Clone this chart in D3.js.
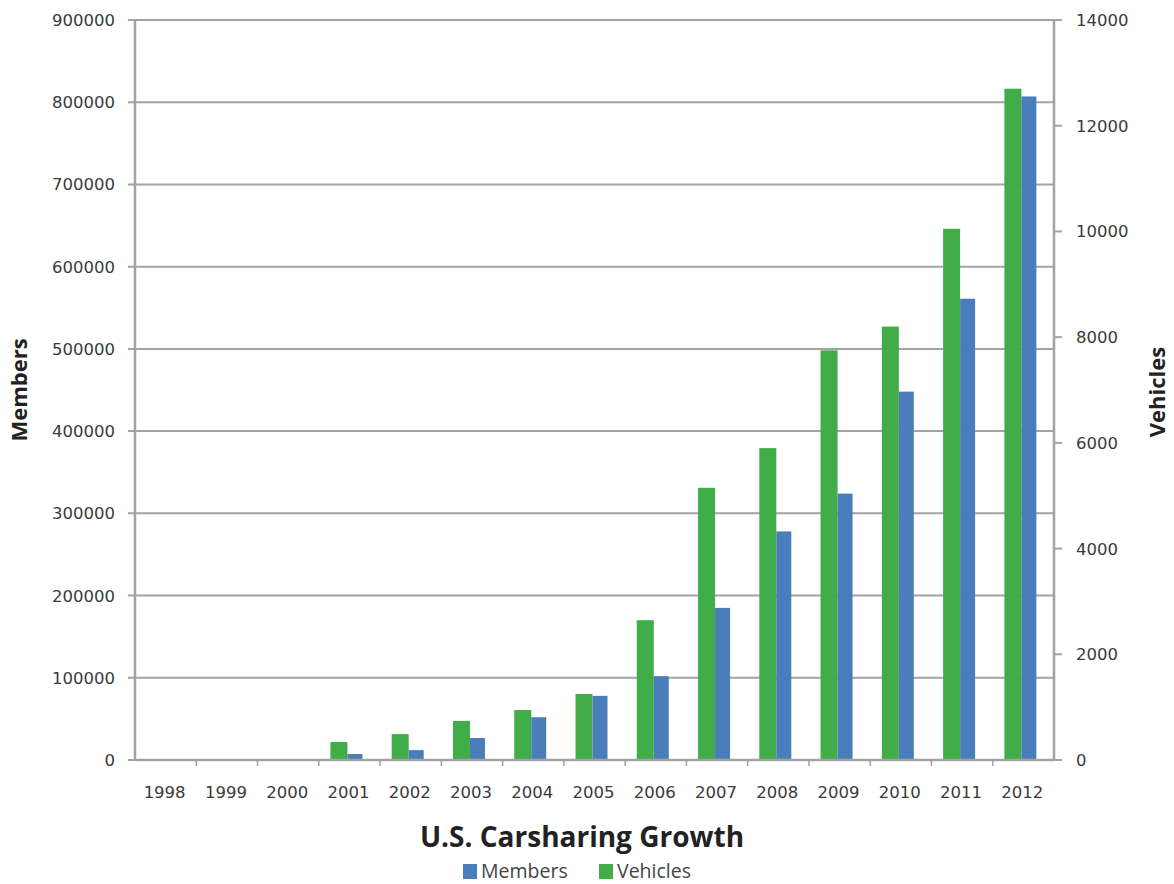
<!DOCTYPE html>
<html>
<head>
<meta charset="utf-8">
<script src="https://cdn.jsdelivr.net/npm/d3@7/dist/d3.min.js"></script>
<style>
  body { margin: 0; background: #fff; }
  svg text { font-family: "DejaVu Sans", Verdana, sans-serif; }
</style>
</head>
<body>
<svg id="chart" width="1174" height="884"></svg>
<script>
// chart data
const years = ["1998", "1999", "2000", "2001", "2002", "2003", "2004", "2005",
               "2006", "2007", "2008", "2009", "2010", "2011", "2012"];
const members = [0, 0, 0, 7300, 12000, 26700, 52000, 78000,
                 102000, 185000, 278000, 324000, 448000, 561000, 807000];
const vehicles = [0, 0, 0, 340, 490, 740, 945, 1250,
                  2645, 5150, 5900, 7750, 8200, 10050, 12700];
const memberTicks = [0, 100000, 200000, 300000, 400000, 500000, 600000, 700000, 800000, 900000];
const vehicleTicks = [0, 2000, 4000, 6000, 8000, 10000, 12000, 14000];

const svg = d3.select("#chart");
const plotLeft = 135, plotRight = 1054, plotTop = 20, plotBottom = 760;

const x = d3.scaleBand().domain(years).range([plotLeft, plotRight]);
const yM = d3.scaleLinear().domain([0, 900000]).range([plotBottom, plotTop]);
const yV = d3.scaleLinear().domain([0, 14000]).range([plotBottom, plotTop]);

const gridColor = "#a3a3a3";
const green = "#40ad48";
const blue = "#4a7ebb";

// gridlines (left axis)
svg.append("g")
  .selectAll("line")
  .data(memberTicks)
  .join("line")
  .attr("x1", plotLeft - 7).attr("x2", plotRight)
  .attr("y1", d => yM(d)).attr("y2", d => yM(d))
  .attr("stroke", gridColor).attr("stroke-width", 2);

// left axis labels
svg.append("g")
  .selectAll("text")
  .data(memberTicks)
  .join("text")
  .attr("x", 115).attr("y", d => yM(d) + 6)
  .attr("text-anchor", "end")
  .attr("font-size", 16.5)
  .attr("fill", "#3a3a3a")
  .text(d => d);

// right axis ticks + labels
svg.append("g")
  .selectAll("line")
  .data(vehicleTicks)
  .join("line")
  .attr("x1", plotRight).attr("x2", plotRight + 8)
  .attr("y1", d => yV(d)).attr("y2", d => yV(d))
  .attr("stroke", gridColor).attr("stroke-width", 2);

svg.append("g")
  .selectAll("text")
  .data(vehicleTicks)
  .join("text")
  .attr("x", 1076).attr("y", d => yV(d) + 6)
  .attr("text-anchor", "start")
  .attr("font-size", 16.5)
  .attr("fill", "#3a3a3a")
  .text(d => d);

// bars
const bw = 16;
const groups = svg.append("g")
  .selectAll("g")
  .data(years)
  .join("g")
  .attr("transform", d => "translate(" + (x(d) + x.bandwidth() / 2 - 2) + ",0)");

groups.append("rect")
  .attr("x", -bw - 1)
  .attr("width", bw + 1)
  .attr("y", (d, i) => yV(vehicles[i]))
  .attr("height", (d, i) => plotBottom - yV(vehicles[i]))
  .attr("fill", green);

groups.append("rect")
  .attr("x", 0)
  .attr("width", bw - 1)
  .attr("y", (d, i) => yM(members[i]))
  .attr("height", (d, i) => plotBottom - yM(members[i]))
  .attr("fill", blue);

// axis lines
svg.append("line")
  .attr("x1", plotLeft).attr("x2", plotLeft).attr("y1", plotTop).attr("y2", plotBottom + 1)
  .attr("stroke", gridColor).attr("stroke-width", 2.5);
svg.append("line")
  .attr("x1", plotRight).attr("x2", plotRight).attr("y1", plotTop).attr("y2", plotBottom + 1)
  .attr("stroke", gridColor).attr("stroke-width", 2.5);
svg.append("line")
  .attr("x1", plotLeft).attr("x2", plotRight).attr("y1", plotBottom).attr("y2", plotBottom)
  .attr("stroke", gridColor).attr("stroke-width", 2.5);

// category tick marks
svg.append("g")
  .selectAll("line")
  .data(years.slice(1))
  .join("line")
  .attr("x1", d => x(d)).attr("x2", d => x(d))
  .attr("y1", plotBottom).attr("y2", plotBottom + 6)
  .attr("stroke", gridColor).attr("stroke-width", 1.5);

// x labels
svg.append("g")
  .selectAll("text")
  .data(years)
  .join("text")
  .attr("x", d => x(d) + x.bandwidth() / 2 - 1)
  .attr("y", 798)
  .attr("text-anchor", "middle")
  .attr("font-size", 16.5)
  .attr("fill", "#3a3a3a")
  .text(d => d);

// axis titles
svg.append("text")
  .attr("transform", "translate(27,390) rotate(-90)")
  .attr("text-anchor", "middle")
  .attr("font-size", 22)
  .attr("font-weight", "bold")
  .style("font-family", "'Open Sans', sans-serif")
  .attr("fill", "#222")
  .text("Members");

svg.append("text")
  .attr("transform", "translate(1165,392) rotate(-90)")
  .attr("text-anchor", "middle")
  .attr("font-size", 22)
  .attr("font-weight", "bold")
  .style("font-family", "'Open Sans', sans-serif")
  .attr("fill", "#222")
  .text("Vehicles");

// title
svg.append("text")
  .attr("x", 582).attr("y", 847)
  .attr("text-anchor", "middle")
  .attr("font-size", 28)
  .attr("font-weight", "bold")
  .style("font-family", "'Open Sans', sans-serif")
  .attr("fill", "#222")
  .text("U.S. Carsharing Growth");

// legend
const legend = [
  { name: "Members", color: blue, x: 463 },
  { name: "Vehicles", color: green, x: 599 }
];
const lg = svg.append("g")
  .selectAll("g")
  .data(legend)
  .join("g")
  .attr("transform", d => "translate(" + d.x + ",864)");
lg.append("rect")
  .attr("width", 14).attr("height", 15)
  .attr("fill", d => d.color);
lg.append("text")
  .attr("x", 18).attr("y", 14)
  .attr("font-size", 19.5)
  .style("font-family", "'Open Sans', sans-serif")
  .attr("fill", "#444")
  .text(d => d.name);
</script>
</body>
</html>
